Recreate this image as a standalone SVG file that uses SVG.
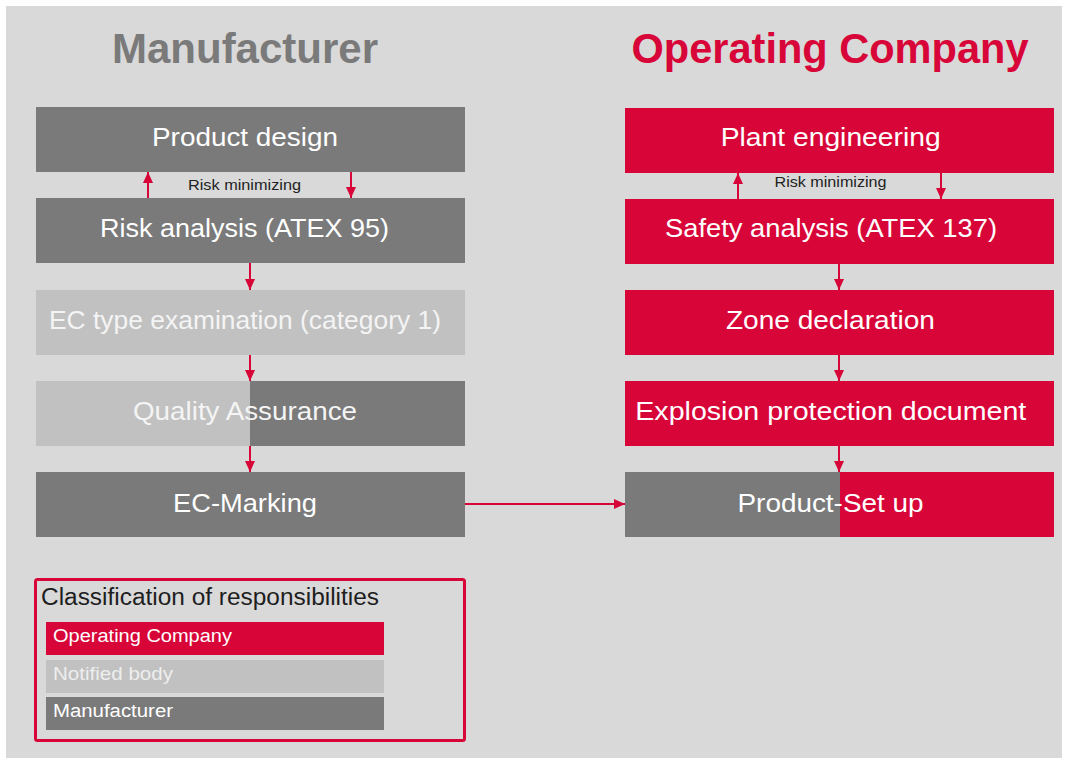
<svg xmlns="http://www.w3.org/2000/svg" width="1065" height="758" viewBox="0 0 1065 758">
  <style>
    .bg { fill: #d9d9d9; }
    .mfr { fill: #7a7a7a; }
    .nb { fill: #c1c1c1; }
    .op { fill: #d80538; }
    .lbl { font-family: "Liberation Sans", Arial, sans-serif; font-size: 26px; fill: #ffffff; text-anchor: middle; }
    .lbl-light { fill: #f4f4f4; }
    .title { font-family: "Liberation Sans", Arial, sans-serif; font-size: 42px; font-weight: bold; text-anchor: middle; }
    .note { font-family: "Liberation Sans", Arial, sans-serif; font-size: 15px; fill: #222222; text-anchor: middle; }
    .legend-title { font-family: "Liberation Sans", Arial, sans-serif; font-size: 23px; fill: #1e1e1e; }
    .legend-item { font-family: "Liberation Sans", Arial, sans-serif; font-size: 18px; fill: #ffffff; }
    .flow { stroke: #d80538; stroke-width: 2; fill: none; marker-end: url(#arrow); }
  </style>
  <defs>
    <marker id="arrow" markerUnits="userSpaceOnUse" markerWidth="12" markerHeight="12" viewBox="0 0 12 12" refX="11" refY="6" orient="auto">
      <path d="M0,1 L11,6 L0,11 Z" fill="#d80538"/>
    </marker>
  </defs>

  <!-- canvas -->
  <rect class="bg" x="6" y="6" width="1056" height="752"/>

  <!-- column headings -->
  <text class="title" x="245" y="63" fill="#7a7a7a" textLength="266" lengthAdjust="spacingAndGlyphs">Manufacturer</text>
  <text class="title" x="830" y="63" fill="#d80538" textLength="397" lengthAdjust="spacingAndGlyphs">Operating Company</text>

  <!-- manufacturer column -->
  <g id="product-design">
    <rect class="mfr" x="36" y="107" width="429" height="65"/>
    <text class="lbl" x="245" y="146" textLength="186" lengthAdjust="spacingAndGlyphs">Product design</text>
  </g>
  <g id="risk-analysis">
    <rect class="mfr" x="36" y="198" width="429" height="65"/>
    <text class="lbl" x="244.5" y="237" textLength="289" lengthAdjust="spacingAndGlyphs">Risk analysis (ATEX 95)</text>
  </g>
  <g id="ec-type-examination">
    <rect class="nb" x="36" y="290" width="429" height="65"/>
    <text class="lbl lbl-light" x="245" y="328.5" textLength="392" lengthAdjust="spacingAndGlyphs">EC type examination (category 1)</text>
  </g>
  <g id="quality-assurance">
    <rect class="nb" x="36" y="381" width="214" height="65"/>
    <rect class="mfr" x="250" y="381" width="215" height="65"/>
    <text class="lbl lbl-light" x="245" y="419.5" textLength="224" lengthAdjust="spacingAndGlyphs">Quality Assurance</text>
  </g>
  <g id="ec-marking">
    <rect class="mfr" x="36" y="472" width="429" height="65"/>
    <text class="lbl" x="245" y="511.5" textLength="144" lengthAdjust="spacingAndGlyphs">EC-Marking</text>
  </g>

  <!-- operating company column -->
  <g id="plant-engineering">
    <rect class="op" x="625" y="108" width="429" height="65"/>
    <text class="lbl" x="830.7" y="145.5" textLength="220" lengthAdjust="spacingAndGlyphs">Plant engineering</text>
  </g>
  <g id="safety-analysis">
    <rect class="op" x="625" y="199" width="429" height="65"/>
    <text class="lbl" x="831" y="237" textLength="332" lengthAdjust="spacingAndGlyphs">Safety analysis (ATEX 137)</text>
  </g>
  <g id="zone-declaration">
    <rect class="op" x="625" y="290" width="429" height="65"/>
    <text class="lbl" x="830.4" y="329.3" textLength="209" lengthAdjust="spacingAndGlyphs">Zone declaration</text>
  </g>
  <g id="explosion-protection-document">
    <rect class="op" x="625" y="381" width="429" height="65"/>
    <text class="lbl" x="830.8" y="419.5" textLength="391" lengthAdjust="spacingAndGlyphs">Explosion protection document</text>
  </g>
  <g id="product-set-up">
    <rect class="mfr" x="625" y="472" width="215" height="65"/>
    <rect class="op" x="840" y="472" width="214" height="65"/>
    <text class="lbl" x="830.5" y="511.5" textLength="186" lengthAdjust="spacingAndGlyphs">Product-Set up</text>
  </g>

  <!-- connectors -->
  <g id="connectors">
    <line class="flow" x1="148" y1="198" x2="148" y2="172"/>
    <line class="flow" x1="351" y1="172" x2="351" y2="198"/>
    <text class="note" x="244.5" y="190" textLength="113" lengthAdjust="spacingAndGlyphs">Risk minimizing</text>

    <line class="flow" x1="738" y1="199" x2="738" y2="173"/>
    <line class="flow" x1="941" y1="173" x2="941" y2="199"/>
    <text class="note" x="830.5" y="187" textLength="112" lengthAdjust="spacingAndGlyphs">Risk minimizing</text>

    <line class="flow" x1="250" y1="263" x2="250" y2="290"/>
    <line class="flow" x1="250" y1="355" x2="250" y2="381"/>
    <line class="flow" x1="250" y1="446" x2="250" y2="472"/>

    <line class="flow" x1="839" y1="264" x2="839" y2="290"/>
    <line class="flow" x1="839" y1="355" x2="839" y2="381"/>
    <line class="flow" x1="839" y1="446" x2="839" y2="472"/>

    <line class="flow" x1="465" y1="504" x2="625" y2="504"/>
  </g>

  <!-- legend -->
  <g id="legend">
    <rect x="35.5" y="579.5" width="429" height="161" rx="2" fill="none" stroke="#d80538" stroke-width="3"/>
    <text class="legend-title" x="41" y="605" textLength="338" lengthAdjust="spacingAndGlyphs">Classification of responsibilities</text>
    <rect class="op" x="46" y="622" width="338" height="33"/>
    <text class="legend-item" x="53" y="642" textLength="179" lengthAdjust="spacingAndGlyphs">Operating Company</text>
    <rect class="nb" x="46" y="660" width="338" height="33"/>
    <text class="legend-item" x="53" y="679.5" fill="#eeeeee" style="fill:#eeeeee" textLength="120" lengthAdjust="spacingAndGlyphs">Notified body</text>
    <rect class="mfr" x="46" y="697" width="338" height="33"/>
    <text class="legend-item" x="53" y="717" textLength="120" lengthAdjust="spacingAndGlyphs">Manufacturer</text>
  </g>
</svg>
